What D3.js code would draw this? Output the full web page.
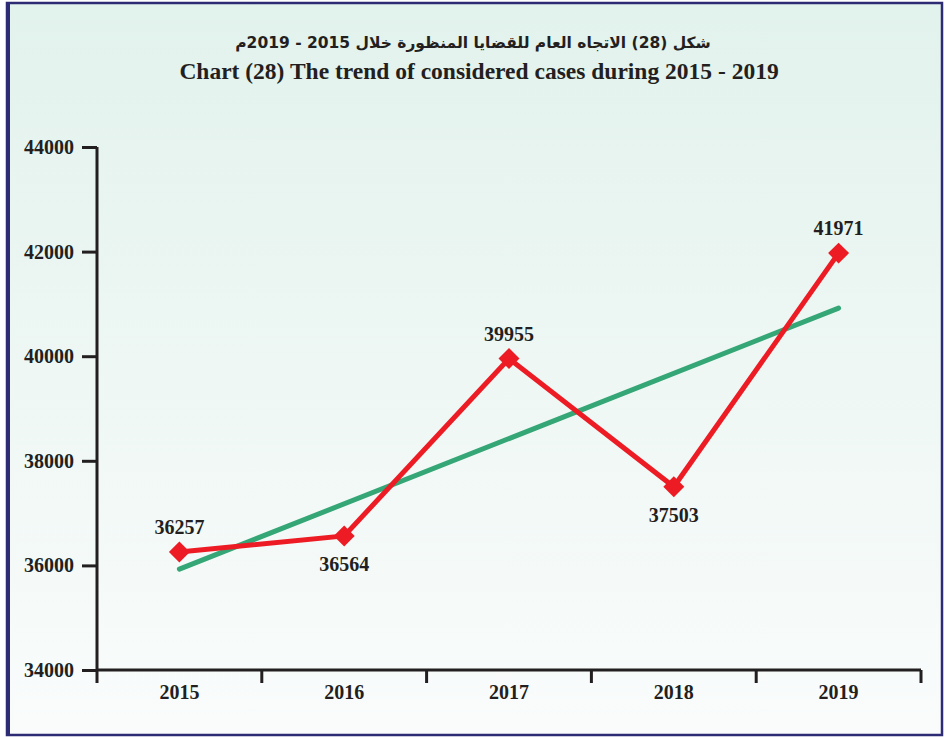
<!DOCTYPE html>
<html>
<head>
<meta charset="utf-8">
<script src="https://cdn.jsdelivr.net/npm/d3@7"></script>
<style>
  body { margin: 0; background: #fff; }
  svg { display: block; }
  .axis text { font-family: "Liberation Serif", "Times New Roman", serif; font-weight: bold; fill: #231f20; }
</style>
</head>
<body>
<svg width="945" height="737"></svg>
<script>
// chart data
var years = ["2015", "2016", "2017", "2018", "2019"];
var cases = [36257, 36564, 39955, 37503, 41971];
// trend line end values (first and last year)
var trendEnds = [35930, 40920];
var yTicks = [34000, 36000, 38000, 40000, 42000, 44000];
// label placement: above or below the point
var labelPos = ["above", "below", "above", "below", "above"];

var titleAr = "شكل (28) الاتجاه العام للقضايا المنظورة خلال 2015 - 2019م";
var titleEn = "Chart (28) The trend of considered cases during 2015 - 2019";

var svg = d3.select("svg");

// background gradient
var defs = svg.append("defs");
var grad = defs.append("linearGradient")
    .attr("id", "bg")
    .attr("x1", 0).attr("y1", 0).attr("x2", 0).attr("y2", 1);
grad.append("stop").attr("offset", "0%").attr("stop-color", "#e2f2ec");
grad.append("stop").attr("offset", "100%").attr("stop-color", "#fafcfc");

svg.append("rect")
    .attr("x", 7).attr("y", 3)
    .attr("width", 935).attr("height", 732)
    .attr("fill", "url(#bg)")
    .attr("stroke", "#2d2b73")
    .attr("stroke-width", 2.5);
// thicker left edge
svg.append("line")
    .attr("x1", 8).attr("x2", 8)
    .attr("y1", 3).attr("y2", 735)
    .attr("stroke", "#2d2b73")
    .attr("stroke-width", 4);

// titles
svg.append("text")
    .attr("x", 473).attr("y", 48)
    .attr("text-anchor", "middle")
    .attr("direction", "rtl")
    .style("font-family", "'DejaVu Sans', 'Noto Sans', sans-serif")
    .style("font-weight", "bold")
    .style("font-size", "15.5px")
    .attr("fill", "#231f20")
    .text(titleAr);

svg.append("text")
    .attr("x", 479).attr("y", 79)
    .attr("text-anchor", "middle")
    .style("font-family", "'Liberation Serif', 'Times New Roman', serif")
    .style("font-weight", "bold")
    .style("font-size", "23.5px")
    .attr("fill", "#231f20")
    .text(titleEn);

// scales
var x = d3.scaleBand()
    .domain(years)
    .range([97, 921]);

var y = d3.scaleLinear()
    .domain([34000, 44000])
    .range([670, 147]);

// y axis
var yAxis = svg.append("g")
    .attr("class", "axis")
    .attr("transform", "translate(97,0)")
    .call(d3.axisLeft(y).tickValues(yTicks).tickSize(15).tickPadding(8).tickFormat(d3.format("d")));
yAxis.select(".domain").attr("stroke", "#231f20").attr("stroke-width", 3)
    .attr("d", "M0," + y(44000) + "V" + y(34000));
yAxis.selectAll(".tick line").attr("stroke", "#231f20").attr("stroke-width", 3);
yAxis.selectAll(".tick text").style("font-size", "20px");

// x axis, ticks on band edges
var xAxis = svg.append("g")
    .attr("class", "axis")
    .attr("transform", "translate(0," + y(34000) + ")");
xAxis.append("line")
    .attr("x1", x.range()[0]).attr("x2", x.range()[1])
    .attr("stroke", "#231f20").attr("stroke-width", 3);
var edges = years.map(function (d) { return x(d); }).concat([x.range()[1]]);
xAxis.selectAll(".edge")
    .data(edges)
    .enter().append("line")
    .attr("class", "edge")
    .attr("x1", function (d) { return d; })
    .attr("x2", function (d) { return d; })
    .attr("y1", 0).attr("y2", 13)
    .attr("stroke", "#231f20").attr("stroke-width", 3);
xAxis.selectAll(".lbl")
    .data(years)
    .enter().append("text")
    .attr("class", "lbl")
    .attr("x", function (d) { return x(d) + x.bandwidth() / 2; })
    .attr("y", 29)
    .attr("text-anchor", "middle")
    .style("font-size", "20px")
    .text(function (d) { return d; });

var cx = function (d, i) { return x(years[i]) + x.bandwidth() / 2; };

// trend line
var trendX = [years[0], years[years.length - 1]];
svg.append("path")
    .datum(trendEnds)
    .attr("fill", "none")
    .attr("stroke", "#35a676")
    .attr("stroke-width", 5)
    .attr("stroke-linecap", "round")
    .attr("d", d3.line()
        .x(function (d, i) { return x(trendX[i]) + x.bandwidth() / 2; })
        .y(function (d) { return y(d); }));

// data line
svg.append("path")
    .datum(cases)
    .attr("fill", "none")
    .attr("stroke", "#ed1c24")
    .attr("stroke-width", 5)
    .attr("stroke-linejoin", "miter")
    .attr("d", d3.line().x(cx).y(function (d) { return y(d); }));

// diamond markers
svg.selectAll(".marker")
    .data(cases)
    .enter().append("path")
    .attr("class", "marker")
    .attr("fill", "#ed1c24")
    .attr("transform", function (d, i) { return "translate(" + cx(d, i) + "," + y(d) + ") rotate(45)"; })
    .attr("d", d3.symbol(d3.symbolSquare, 220));

// value labels
svg.selectAll(".val")
    .data(cases)
    .enter().append("text")
    .attr("class", "val")
    .attr("x", cx)
    .attr("y", function (d, i) { return labelPos[i] === "above" ? y(d) - 18 : y(d) + 35; })
    .attr("text-anchor", "middle")
    .style("font-family", "'Liberation Serif', 'Times New Roman', serif")
    .style("font-weight", "bold")
    .style("font-size", "20px")
    .attr("fill", "#231f20")
    .text(function (d) { return d; });
</script>
</body>
</html>
